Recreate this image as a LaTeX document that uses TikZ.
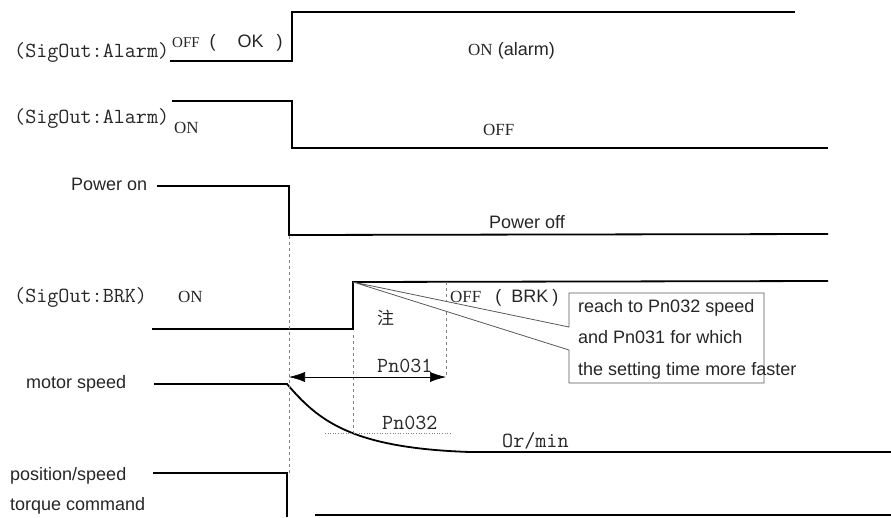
\documentclass[tikz,border=0pt]{standalone}
\usepackage{fontspec}
\setmainfont{Liberation Sans}
\newfontfamily\tmfont{Liberation Serif}
\newfontfamily\cjkfont{Noto Sans CJK SC}
\usetikzlibrary{arrows.meta}

\begin{document}
\begin{tikzpicture}[x=1pt, y=-1pt,
	every node/.style={font=\fontsize{18}{20}\selectfont, inner sep=0pt, anchor=base west, text=black!85},
	sig/.style={line width=1.8pt},
	guide/.style={gray, dashed, line width=0.5pt},
	mono/.style={font=\fontsize{21.5}{22}\selectfont\ttfamily},
	serif/.style={font=\fontsize{17}{20}\selectfont\tmfont},
	>={Latex[length=16pt, width=10pt]}]
	\useasboundingbox (0,0) rectangle (891,517);
	% signal traces
	\draw[sig] (170,61) -- (292,61) -- (292,12) -- (795,12);
	\draw[sig] (172,101) -- (292,101) -- (292,148) -- (828,148);
	\draw[sig] (157,186) -- (289,186) -- (289,235) -- (828,234);
	\draw[sig] (152,329) -- (353,329) -- (353,282) -- (828,281);
	\draw[sig] (154,384) -- (287,384) .. controls (318,420) and (350,448) .. (470,452) -- (891,452);
	\draw[sig] (153,473) -- (287,473) -- (287,517);
	\draw[line width=1.5pt] (315,515) -- (891,515);
	% guides
	\draw[guide] (289,236) -- (289,473);
	\draw[guide] (353,335) -- (353,433);
	\draw[guide] (446,282) -- (446,377);
	\draw[gray, dotted, line width=0.6pt] (325,433) -- (450,433);
	\coordinate (t0) at (289,377);
	\coordinate (t1) at (446,377);
	\draw[<->, line width=0.6pt] (t0) -- (t1);
	% callout
	\coordinate (brk) at (353,282);
	\draw[gray!70!black, line width=0.8pt, fill=white] (569,293) -- (764,293) -- (764,383) -- (569,383) -- (569,350) -- (brk) -- (569,327) -- cycle;
	\node (note1) at (578,312) {reach to Pn032 speed};
	\node (note2) at (578,343) {and Pn031 for which};
	\node (note3) at (578,375) {the setting time more faster};
	% labels
	\node[mono] (alarmA) at (14,57) {(SigOut:Alarm)};
	\node (okA) at (172,47) {{\tmfont\fontsize{15}{18}\selectfont OFF}\hspace{10pt}(\hspace{22pt}OK\hspace{13pt})};
	\node (onA) at (468,55) {{\tmfont\fontsize{17}{20}\selectfont ON} (alarm)};
	\node[mono] (alarmB) at (14,123) {(SigOut:Alarm)};
	\node[serif] (onB) at (174,133) {ON};
	\node[serif] (offB) at (483,135) {OFF};
	\node (pwrOn) at (71,190) {Power on};
	\node (pwrOff) at (489,228) {Power off};
	\node[mono] (brkOn) at (14,302) {(SigOut:BRK)};
	\node[serif] (brkOnB) at (178,302) {ON};
	\node (zhu) at (377,324) {\cjkfont\fontsize{17}{20}\selectfont 注};
	\node (brkOff) at (450,302) {{\tmfont\fontsize{17}{20}\selectfont OFF}\hspace{14pt}(\hspace{10pt}BRK\hspace{4pt})};
	\node[mono] (pnA) at (377,372) {Pn031};
	\node[mono] (pnB) at (382,429) {Pn032};
	\node[mono] (rpm) at (502,447) {Or/min};
	\node (speed) at (26,388) {motor speed};
	\node (cmdA) at (10,480) {position/speed};
	\node (cmdB) at (10,510) {torque command};
\end{tikzpicture}
\end{document}
